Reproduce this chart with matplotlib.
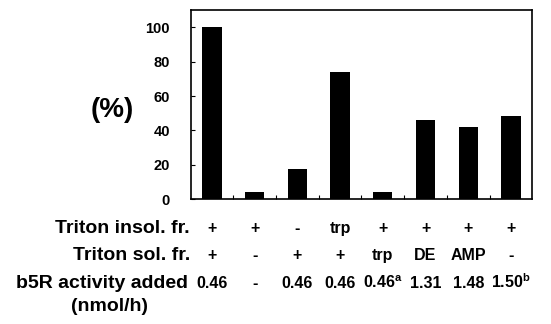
import matplotlib.pyplot as plt
from matplotlib.transforms import blended_transform_factory

plt.rcParams["font.family"] = ["Liberation Sans", "DejaVu Sans"]
plt.rcParams["font.weight"] = "bold"
plt.rcParams["mathtext.fontset"] = "custom"
plt.rcParams["mathtext.rm"] = "Liberation Sans:bold"
plt.rcParams["mathtext.bf"] = "Liberation Sans:bold"

percent = [100, 4.5, 17.4, 74.2, 4.0, 46.1, 41.9, 48.3]
insol_fr = ["+", "+", "-", "trp", "+", "+", "+", "+"]
sol_fr = ["+", "-", "+", "+", "trp", "DE", "AMP", "-"]
b5r_added = ["0.46", "-", "0.46", "0.46", "0.46$^{\\mathbf{a}}$", "1.31", "1.48", "1.50$^{\\mathbf{b}}$"]
row_labels = ["Triton insol. fr.", "Triton sol. fr.", "b5R activity added"]


def main():
    fig = plt.figure(figsize=(5.51, 3.24), dpi=100)
    ax = fig.add_axes([0.346, 0.385, 0.62, 0.584])

    x = range(len(percent))
    ax.bar(x, percent, width=0.45, color="black")
    ax.set_xlim(-0.5, len(percent) - 0.5)
    ax.set_ylim(0, 110)

    ax.set_yticks([0, 20, 40, 60, 80, 100])
    ax.tick_params(axis="y", direction="in", length=3, width=0.8, labelsize=10.5, pad=15)
    ax.set_xticks([i + 0.5 for i in range(len(percent) - 1)])
    ax.set_xticklabels([])
    ax.tick_params(axis="x", direction="in", length=3, width=0.8)
    for lab in ax.get_yticklabels():
        lab.set_fontweight("bold")
    for sp in ax.spines.values():
        sp.set_linewidth(1.2)

    fig.text(112 / 551, 1 - 110 / 324, "(%)", fontsize=20, fontweight="bold",
             ha="center", va="center")

    # table under the bars (baselines)
    tr = blended_transform_factory(ax.transData, fig.transFigure)
    rows = [insol_fr, sol_fr, b5r_added]
    row_y = [0.281, 0.197, 0.112]
    label_right = [190 / 551, 190 / 551, 188 / 551]
    for label, vals, y, xr in zip(row_labels, rows, row_y, label_right):
        fig.text(xr, y, label, fontsize=14, fontweight="bold", ha="right", va="baseline")
        for i, v in enumerate(vals):
            ax.text(i, y, v, transform=tr, fontsize=11.5,
                    fontweight="bold", ha="center", va="baseline")
    fig.text(110 / 551, 0.040, "(nmol/h)", fontsize=14, fontweight="bold",
             ha="center", va="baseline")

    fig.savefig("out.png", dpi=100)


if __name__ == "__main__":
    main()
